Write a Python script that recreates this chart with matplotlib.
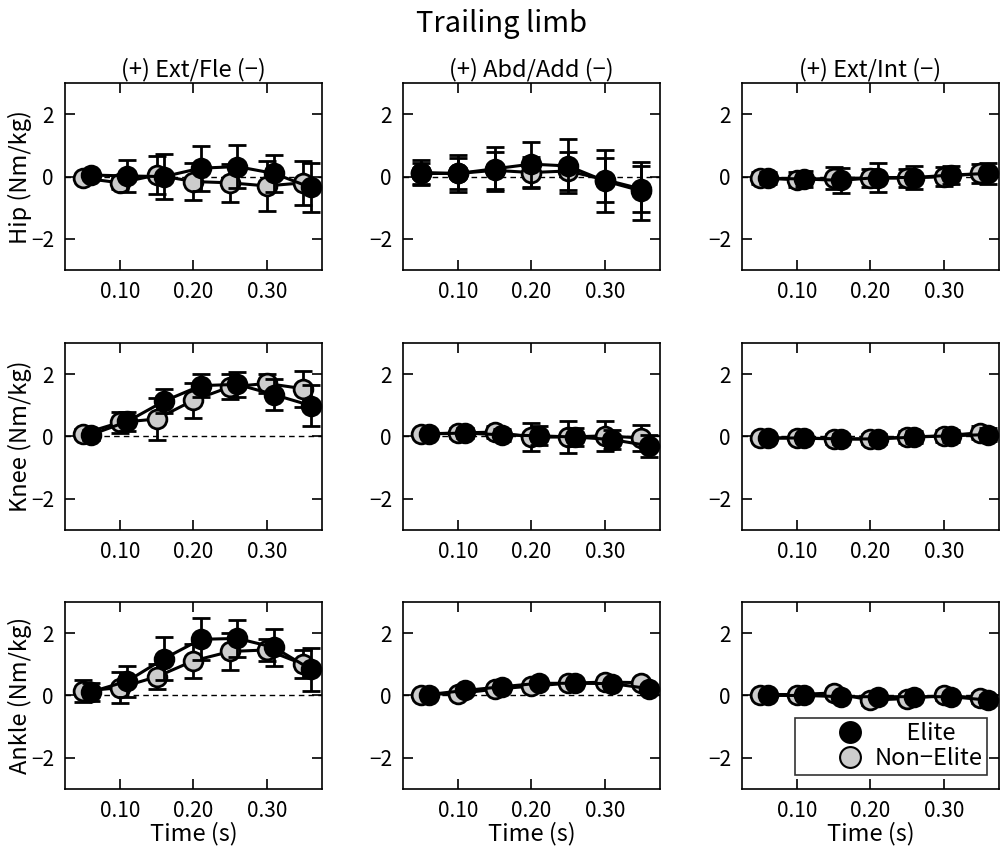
import matplotlib
matplotlib.use("Agg")
import matplotlib.pyplot as plt
from matplotlib.lines import Line2D

plt.rcParams['font.family'] = ['Noto Sans CJK JP', 'DejaVu Sans']

# time points (s)
t_non = [0.05, 0.10, 0.15, 0.20, 0.25, 0.30, 0.35]
t_elite = [0.06, 0.11, 0.16, 0.21, 0.26, 0.31, 0.36]
t_elite_abd = [0.05, 0.10, 0.15, 0.20, 0.25, 0.30, 0.35]

col_titles = ["(+) Ext/Fle (\u2212)", "(+) Abd/Add (\u2212)", "(+) Ext/Int (\u2212)"]
row_labels = ["Hip (Nm/kg)", "Knee (Nm/kg)", "Ankle (Nm/kg)"]

# Hip
hip_fle_non = [-0.05, -0.2, 0.05, -0.16, -0.2, -0.3, -0.2]
hip_fle_non_sd = [0.1, 0.2, 0.6, 0.6, 0.6, 0.8, 0.7]
hip_fle_eli = [0.05, 0.02, 0.0, 0.27, 0.32, 0.1, -0.35]
hip_fle_eli_sd = [0.1, 0.5, 0.72, 0.72, 0.7, 0.6, 0.8]

hip_abd_non = [0.1, 0.1, 0.2, 0.13, 0.18, -0.1, -0.4]
hip_abd_non_sd = [0.35, 0.5, 0.6, 0.5, 0.6, 0.7, 0.75]
hip_abd_eli = [0.13, 0.1, 0.25, 0.4, 0.34, -0.14, -0.46]
hip_abd_eli_sd = [0.4, 0.58, 0.7, 0.72, 0.86, 1.0, 0.92]

hip_int_non = [-0.05, -0.1, -0.05, -0.05, -0.05, 0.0, 0.1]
hip_int_non_sd = [0.2, 0.25, 0.35, 0.3, 0.3, 0.3, 0.3]
hip_int_eli = [-0.05, -0.08, -0.12, -0.03, -0.03, 0.05, 0.1]
hip_int_eli_sd = [0.2, 0.25, 0.4, 0.47, 0.37, 0.3, 0.35]

# Knee
knee_fle_non = [0.09, 0.45, 0.56, 1.16, 1.59, 1.7, 1.53]
knee_fle_non_sd = [0.15, 0.35, 0.66, 0.57, 0.4, 0.3, 0.57]
knee_fle_eli = [0.05, 0.48, 1.13, 1.63, 1.67, 1.34, 0.99]
knee_fle_eli_sd = [0.15, 0.3, 0.38, 0.38, 0.4, 0.5, 0.65]

knee_abd_non = [0.08, 0.11, 0.14, -0.02, -0.02, 0.02, -0.05]
knee_abd_non_sd = [0.1, 0.15, 0.2, 0.45, 0.5, 0.48, 0.43]
knee_abd_eli = [0.08, 0.11, 0.05, 0.02, -0.02, -0.1, -0.3]
knee_abd_eli_sd = [0.1, 0.15, 0.2, 0.3, 0.3, 0.3, 0.35]

knee_int_non = [-0.05, -0.05, -0.08, -0.08, -0.02, 0.02, 0.12]
knee_int_non_sd = [0.12, 0.12, 0.15, 0.15, 0.2, 0.2, 0.2]
knee_int_eli = [-0.05, -0.05, -0.08, -0.08, -0.02, 0.02, 0.06]
knee_int_eli_sd = [0.12, 0.12, 0.15, 0.15, 0.2, 0.2, 0.2]

# Ankle
ank_fle_non = [0.14, 0.25, 0.6, 1.11, 1.41, 1.46, 1.0]
ank_fle_non_sd = [0.35, 0.5, 0.4, 0.54, 0.6, 0.36, 0.45]
ank_fle_eli = [0.11, 0.46, 1.18, 1.8, 1.83, 1.54, 0.84]
ank_fle_eli_sd = [0.3, 0.5, 0.68, 0.67, 0.6, 0.6, 0.69]

ank_abd_non = [0.03, 0.06, 0.2, 0.3, 0.39, 0.43, 0.41]
ank_abd_non_sd = [0.08, 0.08, 0.1, 0.1, 0.1, 0.1, 0.1]
ank_abd_eli = [0.03, 0.16, 0.28, 0.39, 0.39, 0.38, 0.22]
ank_abd_eli_sd = [0.08, 0.08, 0.1, 0.1, 0.1, 0.1, 0.1]

ank_int_non = [0.03, 0.03, 0.08, -0.15, -0.1, 0.0, -0.08]
ank_int_non_sd = [0.1, 0.1, 0.12, 0.15, 0.15, 0.15, 0.15]
ank_int_eli = [0.0, 0.0, -0.04, -0.04, -0.04, -0.04, -0.15]
ank_int_eli_sd = [0.1, 0.1, 0.12, 0.12, 0.12, 0.12, 0.15]

panels = [
    [(hip_fle_non, hip_fle_non_sd, hip_fle_eli, hip_fle_eli_sd, t_elite),
     (hip_abd_non, hip_abd_non_sd, hip_abd_eli, hip_abd_eli_sd, t_elite_abd),
     (hip_int_non, hip_int_non_sd, hip_int_eli, hip_int_eli_sd, t_elite)],
    [(knee_fle_non, knee_fle_non_sd, knee_fle_eli, knee_fle_eli_sd, t_elite),
     (knee_abd_non, knee_abd_non_sd, knee_abd_eli, knee_abd_eli_sd, t_elite),
     (knee_int_non, knee_int_non_sd, knee_int_eli, knee_int_eli_sd, t_elite)],
    [(ank_fle_non, ank_fle_non_sd, ank_fle_eli, ank_fle_eli_sd, t_elite),
     (ank_abd_non, ank_abd_non_sd, ank_abd_eli, ank_abd_eli_sd, t_elite),
     (ank_int_non, ank_int_non_sd, ank_int_eli, ank_int_eli_sd, t_elite)],
]

grey = '#cccccc'
fig = plt.figure(figsize=(10.03, 8.52), dpi=100)

lefts = [0.0648, 0.4018, 0.7398]
bottoms = [0.683, 0.378, 0.074]
w, h = 0.256, 0.2195

for r in range(3):
    for c in range(3):
        ax = fig.add_axes([lefts[c], bottoms[r], w, h])
        non, non_sd, eli, eli_sd, te = panels[r][c]
        ax.axhline(0, color='black', lw=1, ls=(0, (4, 3)), zorder=1)
        ax.errorbar(t_non, non, yerr=non_sd, color='black', lw=2.2,
                    marker='o', ms=13.5, mfc=grey, mec='black', mew=2,
                    ecolor='black', elinewidth=2, capsize=6.5, capthick=2.2, zorder=2)
        ax.errorbar(te, eli, yerr=eli_sd, color='black', lw=2.2,
                    marker='o', ms=13.5, mfc='black', mec='black', mew=2,
                    ecolor='black', elinewidth=2, capsize=6.5, capthick=2.2, zorder=3)
        ax.set_xlim(0.025, 0.375)
        ax.set_ylim(-3, 3)
        ax.set_xticks([0.10, 0.20, 0.30])
        ax.set_xticklabels(["0.10", "0.20", "0.30"])
        ax.set_yticks([-2, 0, 2])
        ax.set_yticklabels(["\u22122", "0", "2"])
        ax.tick_params(direction='in', top=True, right=True, length=7,
                       width=1.2, labelsize=15, pad=8)
        for s in ax.spines.values():
            s.set_linewidth(1.2)
        if r == 0:
            ax.set_title(col_titles[c], fontsize=17, pad=5)
        if c == 0:
            ax.set_ylabel(row_labels[r], fontsize=17, labelpad=-1)
        if r == 2:
            ax.set_xlabel("Time (s)", fontsize=17, labelpad=0)
        if r == 2 and c == 2:
            handles = [
                Line2D([], [], ls='none', marker='o', ms=15, mfc='black', mec='black', mew=1.5),
                Line2D([], [], ls='none', marker='o', ms=15, mfc=grey, mec='black', mew=1.5),
            ]
            leg = ax.legend(handles, ["      Elite", "Non\u2212Elite"], loc='lower right',
                            bbox_to_anchor=(0.955, 0.075), fontsize=17, frameon=True,
                            fancybox=False, edgecolor='black', handletextpad=-1.05,
                            borderpad=0.2, labelspacing=0.08, handlelength=4.2,
                            borderaxespad=0)
            leg.get_frame().set_linewidth(1.2)

fig.suptitle("Trailing limb", fontsize=21, y=0.99)
fig.savefig("out.png", dpi=100)
